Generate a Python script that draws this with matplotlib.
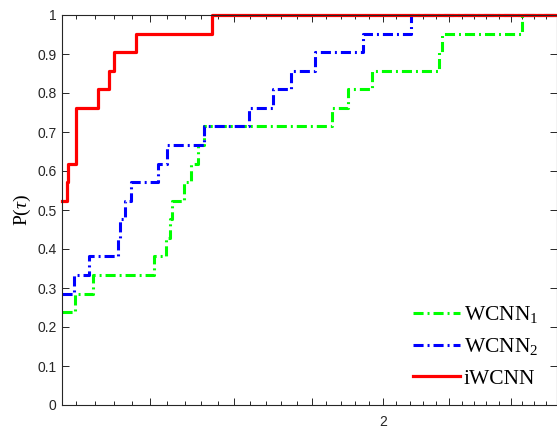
import matplotlib
matplotlib.use("Agg")
import matplotlib.pyplot as plt
from matplotlib.ticker import FixedLocator, FixedFormatter

plt.rcParams['mathtext.fontset'] = 'custom'
plt.rcParams['mathtext.rm'] = 'Liberation Serif'
plt.rcParams['mathtext.it'] = 'Liberation Serif:italic'

n_problems = 21

# tau where each profile steps up, and solved-problem count after the step
wcnn1_start = 5
wcnn1_tau = [1.4282, 1.4566, 1.5571, 1.5777, 1.5846, 1.5881, 1.6091, 1.6214,
             1.6339, 1.6447, 1.8919, 1.9253, 1.9765, 2.1269, 2.1339, 2.3290]
wcnn1_cnt = [6, 7, 8, 9, 10, 11, 12, 13, 14, 15, 16, 17, 18, 19, 20, 21]

wcnn2_start = 6
wcnn2_tau = [1.4266, 1.4502, 1.4970, 1.5002, 1.5085, 1.5184, 1.5639, 1.5794,
             1.6447, 1.7276, 1.7737, 1.8089, 1.8570, 1.9571, 2.0627]
wcnn2_cnt = [7, 8, 9, 10, 11, 12, 13, 14, 15, 16, 17, 18, 19, 20, 21]

iwcnn_start = 11
iwcnn_tau = [1.4152, 1.4173, 1.4290, 1.4651, 1.4823, 1.4904, 1.5267, 1.6591]
iwcnn_cnt = [12, 13, 16, 17, 18, 19, 20, 21]

tau_min, tau_max = 1.408, 2.421
major_ticks = [1.55, 1.70, 1.85, 2.00, 2.15, 2.30]
major_labels = ['', '', '', '2', '', '']
minor_ticks = [1.43 + 0.03 * i for i in range(34)]
y_ticks = [i / 10 for i in range(11)]
y_labels = ['0', '0.1', '0.2', '0.3', '0.4', '0.5', '0.6', '0.7', '0.8', '0.9', '1']


def profile(start, tau, cnt):
    x = [tau_min] + tau + [tau_max]
    y = [start / n_problems] + [c / n_problems for c in cnt] + [cnt[-1] / n_problems]
    return x, y


fig = plt.figure(figsize=(5.57, 4.28), dpi=100)
ax = fig.add_axes([62 / 557, 23 / 428, 495.5 / 557, 390 / 428])
ax.set_xscale('log')

dash = (0, (3.3, 1.3, 0.65, 1.3))
x, y = profile(wcnn1_start, wcnn1_tau, wcnn1_cnt)
ax.step(x, y, where='post', color=(0, 1, 0), lw=2.2, ls=dash, label='WCNN$_1$', clip_on=False)
x, y = profile(wcnn2_start, wcnn2_tau, wcnn2_cnt)
ax.step(x, y, where='post', color=(0, 0, 1), lw=2.2, ls=dash, label='WCNN$_2$', clip_on=False)
x, y = profile(iwcnn_start, iwcnn_tau, iwcnn_cnt)
ax.step(x, y, where='post', color=(1, 0, 0), lw=2.3, label='iWCNN', clip_on=False)

ax.set_xlim(tau_min, tau_max)
ax.set_ylim(0, 1)
ax.xaxis.set_major_locator(FixedLocator(major_ticks))
ax.xaxis.set_major_formatter(FixedFormatter(major_labels))
ax.xaxis.set_minor_locator(FixedLocator(minor_ticks))
ax.xaxis.set_minor_formatter(FixedFormatter([''] * len(minor_ticks)))
ax.set_yticks(y_ticks)
ax.set_yticklabels(y_labels)

grey = (0.15, 0.15, 0.15)
for s in ax.spines.values():
    s.set_color(grey)
    s.set_linewidth(0.8)
ax.tick_params(which='both', direction='in', top=True, right=True, colors=grey,
               labelsize=10, width=0.7)
ax.tick_params(which='major', length=5)
ax.tick_params(which='minor', length=3)
ax.tick_params(axis='x', pad=7)
ax.tick_params(axis='y', length=5, pad=4)
for lab in ax.get_xticklabels() + ax.get_yticklabels():
    lab.set_fontfamily('Liberation Sans')

ax.set_ylabel(r'P($\tau$)', fontsize=14, family='Liberation Serif', labelpad=3)

ax.legend(loc='lower right', frameon=False,
          prop={'family': 'Liberation Serif', 'size': 15.5},
          handlelength=2.2, handletextpad=0.15, labelspacing=0.52,
          bbox_to_anchor=(1.0, -0.008))

fig.savefig('out.png', dpi=100)
